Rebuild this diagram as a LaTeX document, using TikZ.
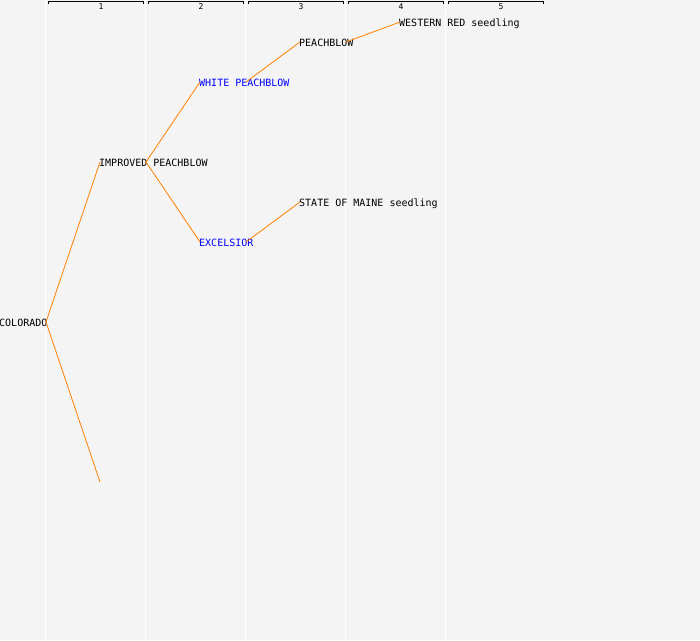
\documentclass[tikz,border=0pt]{standalone}
\usepackage{fontspec}
\setmonofont{DejaVu Sans Mono}
\usepackage{tikz}

\definecolor{paper}{HTML}{F4F4F4}
\definecolor{linkorange}{HTML}{FF8000}
\definecolor{namblue}{HTML}{0000FF}

\tikzset{
    variety/.style={anchor=west, inner sep=0pt, text height=8pt, text depth=0pt, font=\ttfamily\fontsize{10}{12}\selectfont},
    link/.style={draw=linkorange, line width=0.8pt},
    gen/.style={inner sep=0pt, font=\ttfamily\fontsize{8}{9}\selectfont}
}

\begin{document}
\begin{tikzpicture}[x=1pt, y=-1pt]
    \fill[paper] (0,0) rectangle (700,640);
    \useasboundingbox (0,0) rectangle (700,640);
    \foreach \k in {1,...,5} {
        \draw[white, line width=1pt] (\k*100-55,0) -- (\k*100-55,640);
        \draw[black, line width=0.8pt] (\k*100-52,4) -- (\k*100-52,1.5) -- (\k*100+43,1.5) -- (\k*100+43,4);
        \node[gen] (gen\k) at (\k*100+1,6.5) {\k};
    }
    \node[variety] (colorado) at (-1,322) {COLORADO};
    \node[variety] (improved) at (99,162) {IMPROVED PEACHBLOW};
    \node[variety, text=namblue] (whitepb) at (199,82) {WHITE PEACHBLOW};
    \node[variety, text=namblue] (excelsior) at (199,242) {EXCELSIOR};
    \node[variety] (peachblow) at (299,42) {PEACHBLOW};
    \node[variety] (maine) at (299,202) {STATE OF MAINE seedling};
    \node[variety] (western) at (399,22) {WESTERN RED seedling};
    \coordinate (unknown) at (100,482);
    \draw[link] ([xshift=47pt]colorado.west) -- ([xshift=1pt]improved.west);
    \draw[link] ([xshift=47pt]colorado.west) -- (unknown);
    \draw[link] ([xshift=47pt]improved.west) -- ([xshift=1pt]whitepb.west);
    \draw[link] ([xshift=47pt]improved.west) -- ([xshift=1pt]excelsior.west);
    \draw[link] ([xshift=47pt]whitepb.west) -- ([xshift=1pt]peachblow.west);
    \draw[link] ([xshift=47pt]excelsior.west) -- ([xshift=1pt]maine.west);
    \draw[link] ([xshift=47pt]peachblow.west) -- ([xshift=1pt]western.west);
\end{tikzpicture}
\end{document}
